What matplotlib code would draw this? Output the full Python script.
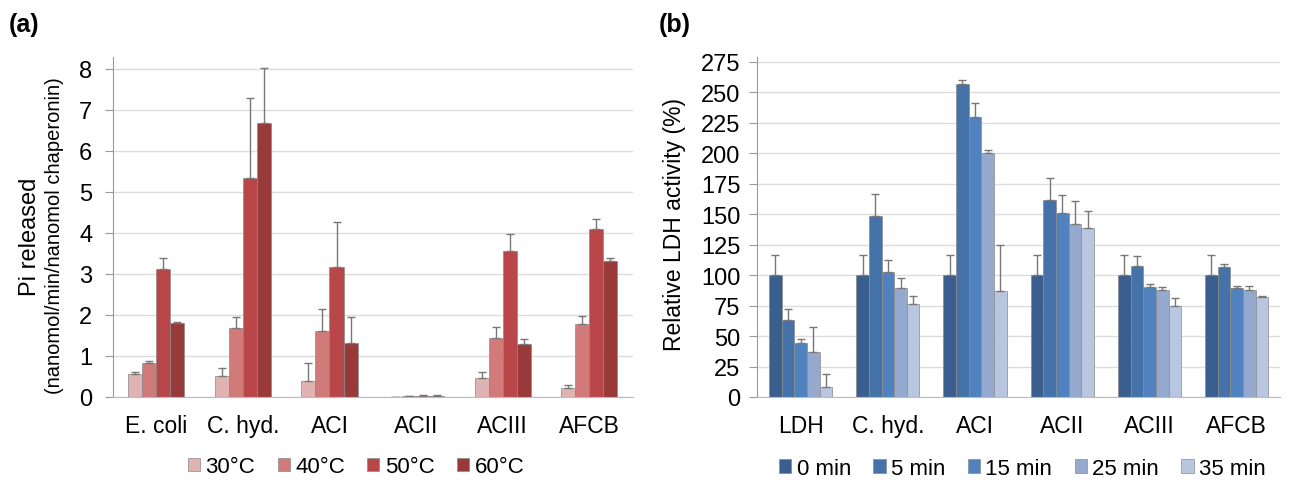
import numpy as np
import matplotlib
matplotlib.use('Agg')
from matplotlib import pyplot as plt

plt.rcParams['font.family'] = ['Liberation Sans', 'DejaVu Sans']

# panel (a)
cats_a = ['E. coli', 'C. hyd.', 'ACI', 'ACII', 'ACIII', 'AFCB']
temps = ['30°C', '40°C', '50°C', '60°C']
pi_30 = [0.56, 0.51, 0.40, 0.00, 0.46, 0.23]
pi_40 = [0.84, 1.69, 1.60, 0.02, 1.44, 1.77]
pi_50 = [3.13, 5.34, 3.18, 0.03, 3.55, 4.09]
pi_60 = [1.81, 6.69, 1.32, 0.03, 1.28, 3.31]
err_30 = [0.04, 0.19, 0.44, 0.00, 0.15, 0.06]
err_40 = [0.03, 0.25, 0.54, 0.01, 0.27, 0.20]
err_50 = [0.27, 1.95, 1.08, 0.01, 0.42, 0.26]
err_60 = [0.03, 1.34, 0.63, 0.01, 0.13, 0.07]
cols_a = ['#e0b2b2', '#d07a7a', '#b9474a', '#983a39']

# panel (b)
cats_b = ['LDH', 'C. hyd.', 'ACI', 'ACII', 'ACIII', 'AFCB']
times = ['0 min', '5 min', '15 min', '25 min', '35 min']
ldh_0 = [100, 100, 100, 100, 100, 100]
ldh_5 = [63.5, 148.6, 256.7, 161.2, 107.3, 106.4]
ldh_15 = [44.3, 102.6, 229.9, 151.0, 90.0, 89.5]
ldh_25 = [37.2, 89.5, 199.8, 142.3, 87.8, 87.8]
ldh_35 = [7.9, 76.3, 87.0, 138.7, 74.4, 82.4]
e_0 = [16.3, 16.3, 16.3, 16.3, 16.3, 16.3]
e_5 = [8.5, 18.0, 3.3, 18.6, 8.7, 2.5]
e_15 = [3.0, 9.6, 11.5, 15.0, 2.5, 1.9]
e_25 = [20.5, 8.2, 2.7, 18.1, 2.5, 3.0]
e_35 = [10.7, 6.6, 37.8, 14.0, 6.6, 0.8]
cols_b = ['#3a5f8e', '#4572a8', '#4f82be', '#95a9cf', '#b9c6df']

fig = plt.figure(figsize=(12.89, 4.81), dpi=100)

def style(ax, ymax, lbl, ypad):
    ax.set_ylim(0, ymax)
    ax.set_xlim(-0.5, 5.5)
    ax.yaxis.grid(True, color='#dcdcdc', lw=1)
    ax.set_axisbelow(True)
    for s in ['top', 'right']:
        ax.spines[s].set_visible(False)
    ax.spines['left'].set_color('#999999')
    ax.spines['bottom'].set_color('#bbbbbb')
    ax.tick_params(axis='y', direction='out', length=6, color='#999999', labelsize=17, pad=ypad)
    ax.tick_params(axis='x', length=0, labelsize=16.5, pad=12)
    ax.set_xticks(range(6))
    ax.set_xticklabels(lbl)

# ---- (a)
ax1 = fig.add_axes([0.0877, 0.1726, 0.403, 0.707])
x = np.arange(6)
w = 0.162
vals = [pi_30, pi_40, pi_50, pi_60]
errs = [err_30, err_40, err_50, err_60]
for i in range(4):
    xi = x + (i - 1.5) * w
    ax1.bar(xi, vals[i], w, color=cols_a[i], edgecolor='#8a8a8a', linewidth=0.5, label=temps[i])
    ax1.errorbar(xi, vals[i], yerr=[np.zeros(6), errs[i]], fmt='none', ecolor='#777777',
                 elinewidth=1, capsize=3, capthick=1)
style(ax1, 8.29, cats_a, 9)
ax1.set_yticks(range(9))
ax1.legend(loc='center', bbox_to_anchor=(0.468, -0.205), ncol=4, frameon=False,
           fontsize=16, handlelength=0.55, handleheight=0.55, handletextpad=0.25, columnspacing=1.0)
fig.text(0.0235, 0.508, 'Pi released', rotation=90, fontsize=17, ha='center', va='center')
fig.text(0.042, 0.51, '(nanomol/min/nanomol chaperonin)', rotation=90, fontsize=14.5, ha='center', va='center')
fig.text(0.007, 0.948, '(a)', fontsize=18, fontweight='bold', va='center')

# ---- (b)
ax2 = fig.add_axes([0.5873, 0.1726, 0.406, 0.707])
w2 = 0.145
vals = [ldh_0, ldh_5, ldh_15, ldh_25, ldh_35]
errs = [e_0, e_5, e_15, e_25, e_35]
for i in range(5):
    xi = x + (i - 2) * w2
    ax2.bar(xi, vals[i], w2, color=cols_b[i], edgecolor='#8a8a8a', linewidth=0.5, label=times[i])
    ax2.errorbar(xi, vals[i], yerr=[np.zeros(6), errs[i]], fmt='none', ecolor='#777777',
                 elinewidth=1, capsize=3, capthick=1)
style(ax2, 279, cats_b, 6)
ax2.set_yticks(range(0, 276, 25))
ax2.legend(loc='center', bbox_to_anchor=(0.507, -0.21), ncol=5, frameon=False,
           fontsize=16, handlelength=0.55, handleheight=0.55, handletextpad=0.25, columnspacing=1.0)
fig.text(0.523, 0.533, 'Relative LDH activity (%)', rotation=90, fontsize=16.5, ha='center', va='center')
fig.text(0.511, 0.948, '(b)', fontsize=18, fontweight='bold', va='center')

plt.savefig('out.png', dpi=100)
